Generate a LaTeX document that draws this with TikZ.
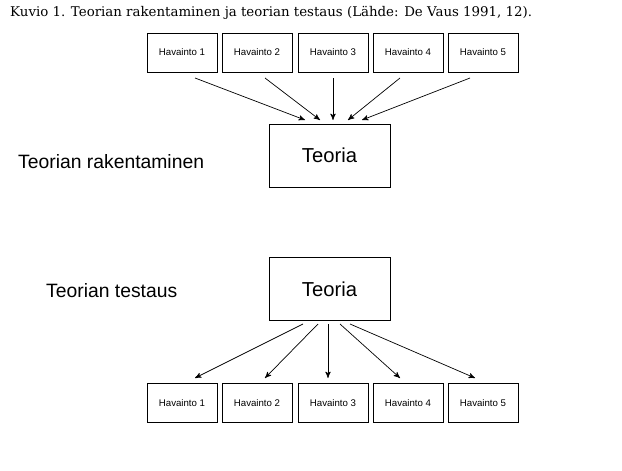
\documentclass[tikz,border=0pt]{standalone}
\usepackage{fontspec}
\setmainfont{Liberation Sans}
\newfontfamily\titlefont{DejaVu Serif}
\usetikzlibrary{arrows,calc,positioning}

\begin{document}
\begin{tikzpicture}[x=0.02cm, y=-0.02cm, >=stealth',
obs/.style = {draw, rectangle, minimum height=0.78cm, minimum width=1.4cm, align=center, font=\fontsize{5.5}{7}\selectfont},
theory/.style = {draw, rectangle, minimum height=1.26cm, minimum width=2.42cm, align=center, font=\fontsize{11.5}{14}\selectfont},
lbl/.style = {anchor=west, font=\fontsize{11}{14}\selectfont},
                    ]
    \useasboundingbox (0,0) rectangle (622,470);
    \node [anchor=west, font=\titlefont\fontsize{7.6}{10}\selectfont] (title) at (4,13) {Kuvio 1. Teorian rakentaminen ja teorian testaus (Lähde: De Vaus 1991, 12).};
    % top half
    \foreach \i/\x in {1/182,2/257,3/333,4/408,5/483}
        \node [obs] (top\i) at (\x,52.5) {Havainto \i};
    \node [theory] (teoria1) at (329.5,155.5) {Teoria};
    \node [lbl] (rak) at (12,162) {Teorian rakentaminen};
    % bottom half
    \node [theory] (teoria2) at (329.5,289) {Teoria};
    \node [lbl] (test) at (40,291) {Teorian testaus};
    \foreach \i/\x in {1/182,2/257,3/333,4/408,5/483}
        \node [obs] (bot\i) at (\x,403) {Havainto \i};
    % arrow ends
    \foreach \i/\x/\t in {1/195/305,2/265/320,3/333/333,4/400/348,5/470/362} {
        \coordinate (ts\i) at (\x,78);
        \coordinate (te\i) at (\t,120);
        \draw[->] (ts\i) -- (te\i);
    }
    \foreach \i/\x/\t in {1/303/195,2/318/265,3/328/328,4/340/400,5/350/475} {
        \coordinate (bs\i) at (\x,324);
        \coordinate (be\i) at (\t,378);
        \draw[->] (bs\i) -- (be\i);
    }
\end{tikzpicture}
\end{document}
